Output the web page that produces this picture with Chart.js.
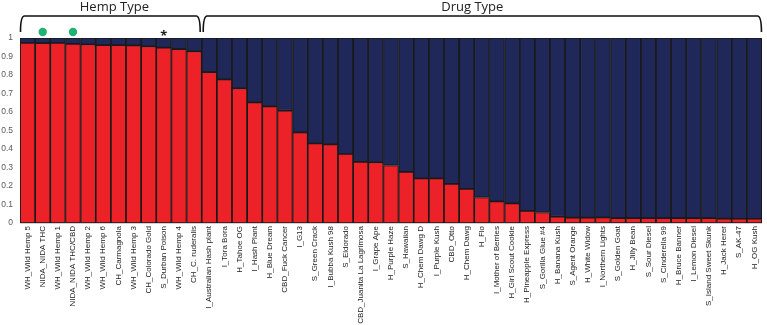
<!DOCTYPE html>
<html>
<head>
<meta charset="utf-8">
<script src="https://cdn.jsdelivr.net/npm/chart.js@4"></script>
<style>
  html, body { margin: 0; padding: 0; background: #fff; }
  #wrap { width: 767px; height: 325px; position: relative; }
</style>
</head>
<body>
<div id="wrap"><canvas id="ancestry"></canvas></div>
<script>
// Cultivar names, hemp-like cultivars first, then drug-type
const STRAINS = [
  'WH_Wild Hemp 5', 'NIDA_NIDA THC', 'WH_Wild Hemp 1', 'NIDA_NIDA THC/CBD', 'WH_Wild Hemp 2',
  'WH_Wild Hemp 6', 'CH_Carmagnola', 'WH_Wild Hemp 3', 'CH_Colorado Gold', 'S_Durban Poison',
  'WH_Wild Hemp 4', 'CH_C. ruderalis', 'I_Australian Hash plant', 'I_Tora Bora', 'H_Tahoe OG',
  'I_Hash Plant', 'H_Blue Dream', 'CBD_Fuck Cancer', 'I_G13', 'S_Green Crack',
  'I_Bubba Kush 98', 'S_Eldorado', 'CBD_Juanita La Lagrimosa', 'I_Grape Ape', 'H_Purple Haze',
  'S_Hawaiian', 'H_Chem Dawg D', 'I_Purple Kush', 'CBD_Otto', 'H_Chem Dawg',
  'H_Flo', 'I_Mother of Berries', 'H_Girl Scout Cookie', 'H_Pineapple Express', 'S_Gorilla Glue #4',
  'H_Banana Kush', 'S_Agent Orange', 'H_White Widow', 'I_Northern Lights', 'S_Golden Goat',
  'H_Jilly Bean', 'S_Sour Diesel', 'S_Cinderella 99', 'H_Bruce Banner', 'I_Lemon Diesel',
  'S_Island Sweet Skunk', 'H_Jack Herer', 'S_AK-47', 'H_OG Kush'
];

// Membership in the hemp cluster (red)
const HEMP_SHARE = [
  0.973, 0.972, 0.973, 0.968, 0.966, 0.961, 0.961, 0.960, 0.955, 0.948,
  0.940, 0.928, 0.816, 0.776, 0.728, 0.652, 0.630, 0.607, 0.490, 0.430,
  0.425, 0.373, 0.331, 0.328, 0.311, 0.276, 0.241, 0.241, 0.212, 0.184,
  0.138, 0.117, 0.106, 0.065, 0.057, 0.034, 0.029, 0.029, 0.030, 0.027,
  0.027, 0.027, 0.026, 0.026, 0.026, 0.026, 0.024, 0.023, 0.023
];

// Membership in the drug cluster (navy)
const DRUG_SHARE = [
  0.027, 0.028, 0.027, 0.032, 0.034, 0.039, 0.039, 0.040, 0.045, 0.052,
  0.060, 0.072, 0.184, 0.224, 0.272, 0.348, 0.370, 0.393, 0.510, 0.570,
  0.575, 0.627, 0.669, 0.672, 0.689, 0.724, 0.759, 0.759, 0.788, 0.816,
  0.862, 0.883, 0.894, 0.935, 0.943, 0.966, 0.971, 0.971, 0.970, 0.973,
  0.973, 0.973, 0.974, 0.974, 0.974, 0.974, 0.976, 0.977, 0.977
];

const Y_TICKS = [0, 0.1, 0.2, 0.3, 0.4, 0.5, 0.6, 0.7, 0.8, 0.9, 1];

// Bracket groups: [label, first index, last index]
const GROUPS = [
  ['Hemp Type', 0, 11],
  ['Drug Type', 12, 48]
];
const DOT_MARKS = [1, 3];      // green dots
const STAR_MARKS = [9];        // asterisk

const RED = '#ED2128';
const NAVY = '#1F2859';
const EDGE = '#1a1a1a';
const LABEL_FONT = "'Liberation Sans', Arial, sans-serif";

// Draws the group brackets, their titles and the dot / star markers above bars
const bracketPlugin = {
  id: 'brackets',
  afterDraw(chart) {
    const { ctx, scales: { x } } = chart;
    const half = (x.getPixelForValue(1) - x.getPixelForValue(0)) / 2;
    const top = 16, bottom = 32;
    ctx.save();
    ctx.strokeStyle = '#111';
    ctx.lineWidth = 1.6;
    ctx.fillStyle = '#222';
    ctx.font = "13px 'Open Sans', sans-serif";
    ctx.textAlign = 'center';
    ctx.textBaseline = 'alphabetic';

    GROUPS.forEach(([label, a, b], gi) => {
      const x0 = x.getPixelForValue(a) - half + (gi === 0 ? 0.5 : 1.5);
      const x1 = x.getPixelForValue(b) + half - (gi === 0 ? 1.5 : 0.5);
      ctx.beginPath();
      ctx.moveTo(x0, bottom);
      ctx.quadraticCurveTo(x0, top, x0 + 4, top);
      ctx.lineTo(x1 - 4, top);
      ctx.quadraticCurveTo(x1, top, x1, bottom);
      ctx.stroke();
      ctx.fillText(label, (x0 + x1) / 2 - (gi === 0 ? -4 : 10), 11);
    });

    ctx.fillStyle = '#20B271';
    DOT_MARKS.forEach(i => {
      ctx.beginPath();
      ctx.arc(x.getPixelForValue(i), 32, 4.2, 0, Math.PI * 2);
      ctx.fill();
    });

    ctx.fillStyle = '#222';
    ctx.font = "bold 13px 'Open Sans', sans-serif";
    STAR_MARKS.forEach(i => {
      ctx.fillText('*', x.getPixelForValue(i), 40);
    });
    ctx.restore();
  }
};

const barStyle = {
  borderColor: EDGE,
  borderWidth: 1.2,
  borderSkipped: false,
  barPercentage: 1,
  categoryPercentage: 1
};

new Chart(document.getElementById('ancestry'), {
  type: 'bar',
  data: {
    labels: STRAINS,
    datasets: [
      { label: 'Hemp', data: HEMP_SHARE, backgroundColor: RED, ...barStyle },
      { label: 'Drug', data: DRUG_SHARE, backgroundColor: NAVY, ...barStyle }
    ]
  },
  options: {
    responsive: true,
    maintainAspectRatio: false,
    animation: false,
    layout: { padding: { top: 38, right: 2, left: 0, bottom: 0 } },
    plugins: {
      legend: { display: false },
      tooltip: { enabled: false }
    },
    scales: {
      x: {
        stacked: true,
        grid: { display: false, drawTicks: false },
        border: { display: true, color: '#d0d0d0' },
        ticks: {
          autoSkip: false,
          minRotation: 90,
          maxRotation: 90,
          padding: 3,
          color: '#222222',
          font: { family: LABEL_FONT, size: 8 }
        },
        afterFit(scale) { scale.height = 102; }
      },
      y: {
        stacked: true,
        min: 0,
        max: 1,
        afterBuildTicks(scale) { scale.ticks = Y_TICKS.map(v => ({ value: v })); },
        grid: { display: false, drawTicks: false },
        border: { display: false },
        ticks: {
          padding: 7,
          color: '#595959',
          font: { family: LABEL_FONT, size: 8.5 },
          callback: v => String(v)
        },
        afterFit(scale) { scale.width = 20; }
      }
    }
  },
  plugins: [bracketPlugin]
});
</script>
</body>
</html>
